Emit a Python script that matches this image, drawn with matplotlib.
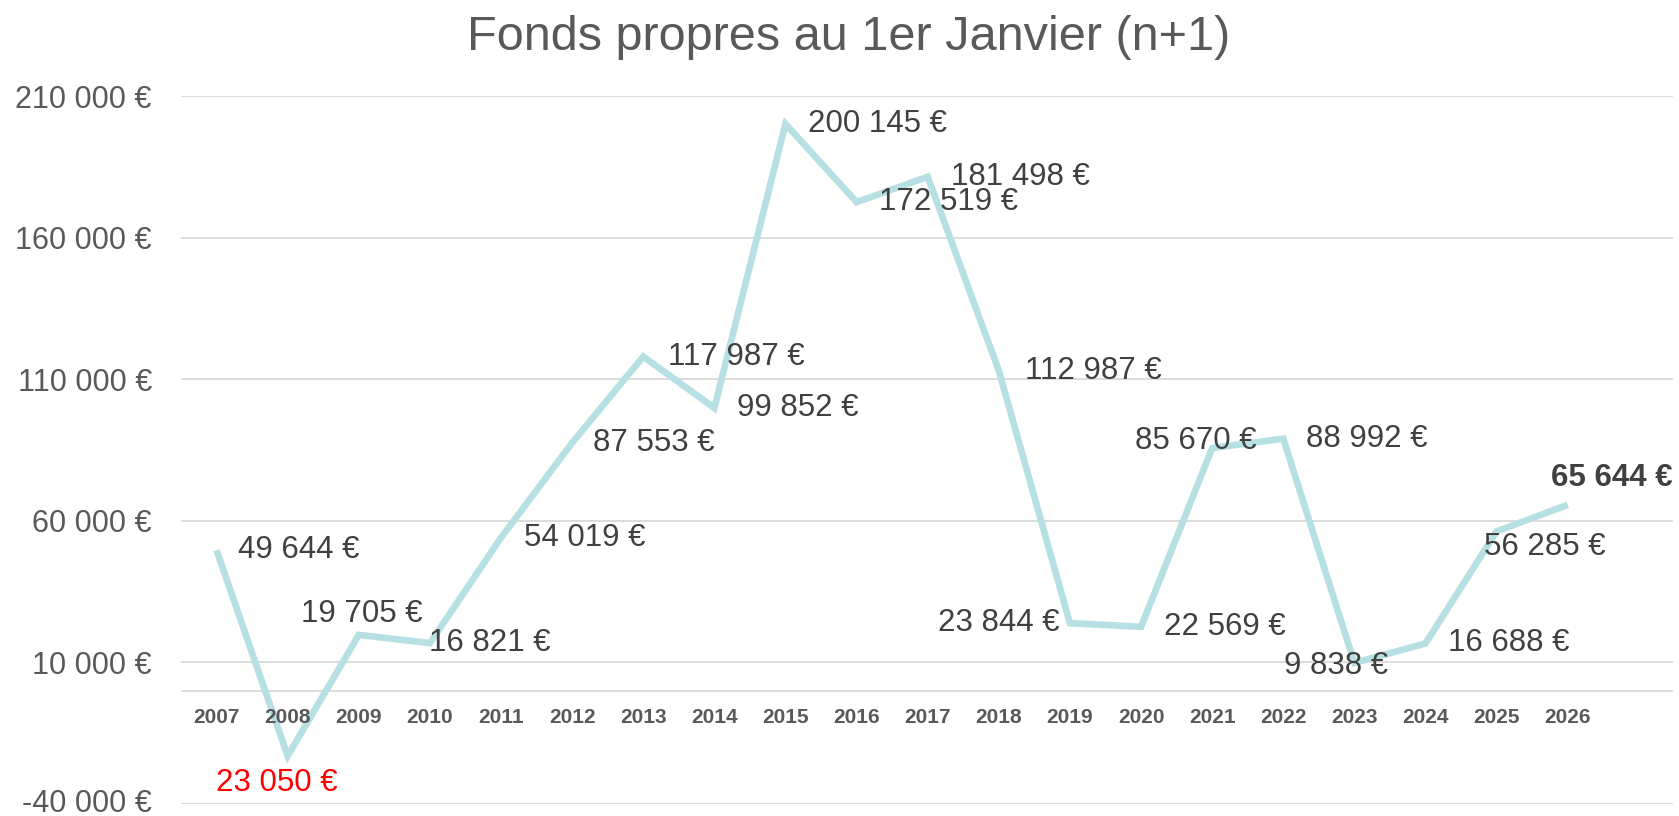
import numpy as np
import matplotlib.pyplot as plt
import matplotlib.transforms as mtransforms

plt.rcParams['font.family'] = ['Liberation Sans', 'DejaVu Sans']

years = list(range(2007, 2027))
fonds_propres = [49644, -23050, 19705, 16821, 54019, 87553, 117987, 99852,
                 200145, 172519, 181498, 112987, 23844, 22569, 85670, 88992,
                 9838, 16688, 56285, 65644]
y_ticks = [-40000, 10000, 60000, 110000, 160000, 210000]
title = "Fonds propres au 1er Janvier (n+1)"

# label offsets from each point, in pixels (dx right, dy down), as placed by hand in the original
label_offsets = [(82, 0), (-11, 27), (3, -21), (60, 0), (84, 0), (82, 0), (93, 0),
                 (83, 0), (92, 0), (92, 0), (93, 0), (94, 0), (-71, 0), (84, 0),
                 (-16, -7), (83, 0), (-18, 3), (83, 0), (48, 16), (44, -27)]


def euro(v):
    return f"{abs(v):,.0f}".replace(",", " ") + " €"


def euro_tick(v):
    s = f"{v:,.0f}".replace(",", " ")
    return s + " €"


fig = plt.figure(figsize=(16.79, 8.16), dpi=100)
ax = fig.add_axes([181/1679, 1 - 804/816, (1673-181)/1679, (804-96)/816])

for t in y_ticks:
    ax.axhline(t, color="#D9D9D9", lw=1.3, zorder=0)
ax.axhline(0, color="#D9D9D9", lw=1.3, zorder=0)

ax.plot(years, fonds_propres, color="#B7E0E4", lw=4.8, solid_joinstyle="miter",
        solid_capstyle="butt", zorder=2)

px = 72 / 100
for i, (yr, v) in enumerate(zip(years, fonds_propres)):
    dx, dy = label_offsets[i]
    color = "red" if v < 0 else "#404040"
    weight = "bold" if i == len(years) - 1 else "normal"
    ax.annotate(euro(v), (yr, v), xytext=(dx*px, -dy*px), textcoords="offset points",
                ha="center", va="center", fontsize=22.5, color=color, fontweight=weight,
                zorder=3)
    ax.annotate(str(yr), (yr, 0), xytext=(0, -26.6*px), textcoords="offset points",
                ha="center", va="center", fontsize=15, fontweight="bold", color="#595959")

ax.set_xlim(2006.5, 2027.48)
ax.set_ylim(-40000, 210000)
ax.set_yticks(y_ticks)
ax.set_yticklabels([euro_tick(t) for t in y_ticks])
ax.tick_params(axis="y", length=0, pad=21, labelsize=22, labelcolor="#595959")
ax.set_xticks([])
for s in ax.spines.values():
    s.set_visible(False)
ax.patch.set_alpha(0)

# lowest tick label sits on the figure edge, nudge it up a little so it stays inside
low = ax.get_yticklabels()[0]
low.set_transform(low.get_transform() + mtransforms.ScaledTranslation(0, 4/100, fig.dpi_scale_trans))

fig.text(849/1679, 1 - 50/816, title, ha="center", va="baseline", fontsize=35,
         color="#595959")

fig.savefig("out.png", dpi=100)
